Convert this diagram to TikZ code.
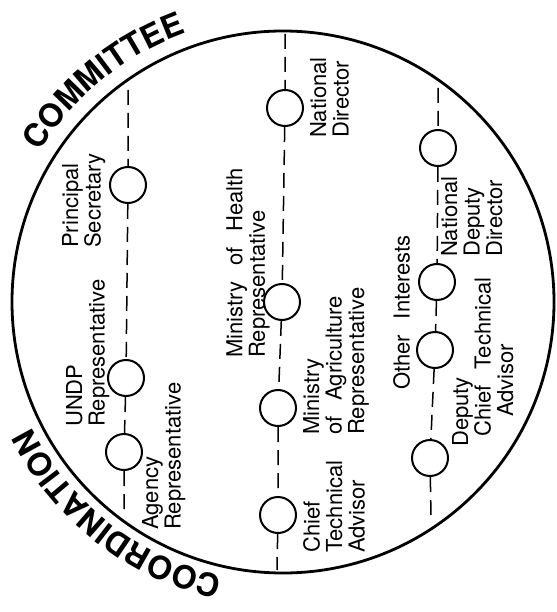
\documentclass[tikz,border=0pt]{standalone}
\usepackage{fontspec}
\setmainfont[WordSpace=2.6]{TeX Gyre Heros}
\usetikzlibrary{decorations.text}

\newcommand{\arcfont}{\fontsize{32}{32}\selectfont\bfseries}

\begin{document}
\begin{tikzpicture}[
  x=1pt, y=1pt,
  font=\fontsize{22}{22.5}\selectfont,
  ring/.style={circle, draw=black, line width=2.8pt, minimum size=542pt, inner sep=0pt},
  member/.style={circle, draw=black, line width=2pt, minimum size=36pt, inner sep=0pt},
  role/.style={rotate=90, anchor=north west, inner sep=0pt, align=left},
  link/.style={dash pattern=on 15pt off 8pt, line width=1.5pt},
  arctext/.style={decorate, decoration={text along path, text align=center, text={#1}}}
]
\useasboundingbox (0,0) rectangle (556,-612);

% committee ring
\node[ring] (ring) at (283,-302) {};

% left column
\coordinate (c1top) at (128,-90);
\node[member] (ps) at (128,-185) {};
\node[member] (undp) at (126,-378) {};
\node[member] (agency) at (124,-452) {};
\coordinate (c1bot) at (124,-513);

% middle column
\coordinate (c2top) at (285,-34);
\node[member] (nd) at (285,-108) {};
\node[member] (moh) at (282,-302) {};
\node[member] (moa) at (278,-408) {};
\node[member] (cta) at (278,-515) {};
\coordinate (c2bot) at (277,-570);

% right column
\coordinate (c3top) at (438,-88);
\node[member] (ndd) at (438,-148) {};
\node[member] (oi1) at (437,-282) {};
\node[member] (oi2) at (435,-350) {};
\node[member] (dcta) at (430,-458) {};
\coordinate (c3bot) at (431,-517);

\draw[link] (c1top) -- (ps) -- (undp) -- (agency) -- (c1bot);
\draw[link] (c2top) -- (nd) -- (moh) -- (moa) -- (cta) -- (c2bot);
\draw[link] (c3top) -- (ndd) -- (oi1) -- (oi2) -- (dcta) -- (c3bot);

% member names
\node[role] (psl) at (62,-248) {Principal\\Secretary};
\node[role] (undpl) at (66,-427) {UNDP\\Representative};
\node[role] (agencyl) at (142,-530) {Agency\\Representative};
\node[role] (ndl) at (310,-138) {National\\Director};
\node[role] (mohl) at (226,-358) {Ministry of Health\\Representative};
\node[role] (moal) at (303,-435) {Ministry\\of Agriculture\\Representative};
\node[role] (ctal) at (303,-553) {Chief\\Technical\\Advisor};
\node[role] (nddl) at (441,-257) {National\\Deputy\\Director};
\node[role] (oil) at (393,-390) {Other Interests};
\node[role] (dctal) at (452,-447) {Deputy\\\hspace*{10pt}Chief Technical\\\hspace*{30pt}Advisor};

% ring titles
\path[arctext={|\arcfont|COMMITTEE}] ([shift={(160:286)}]ring.center) arc[start angle=160, end angle=98, radius=286];
\path[arctext={|\arcfont|COORDINATION}] ([shift={(266:281)}]ring.center) arc[start angle=266, end angle=198, radius=281];
\end{tikzpicture}
\end{document}
